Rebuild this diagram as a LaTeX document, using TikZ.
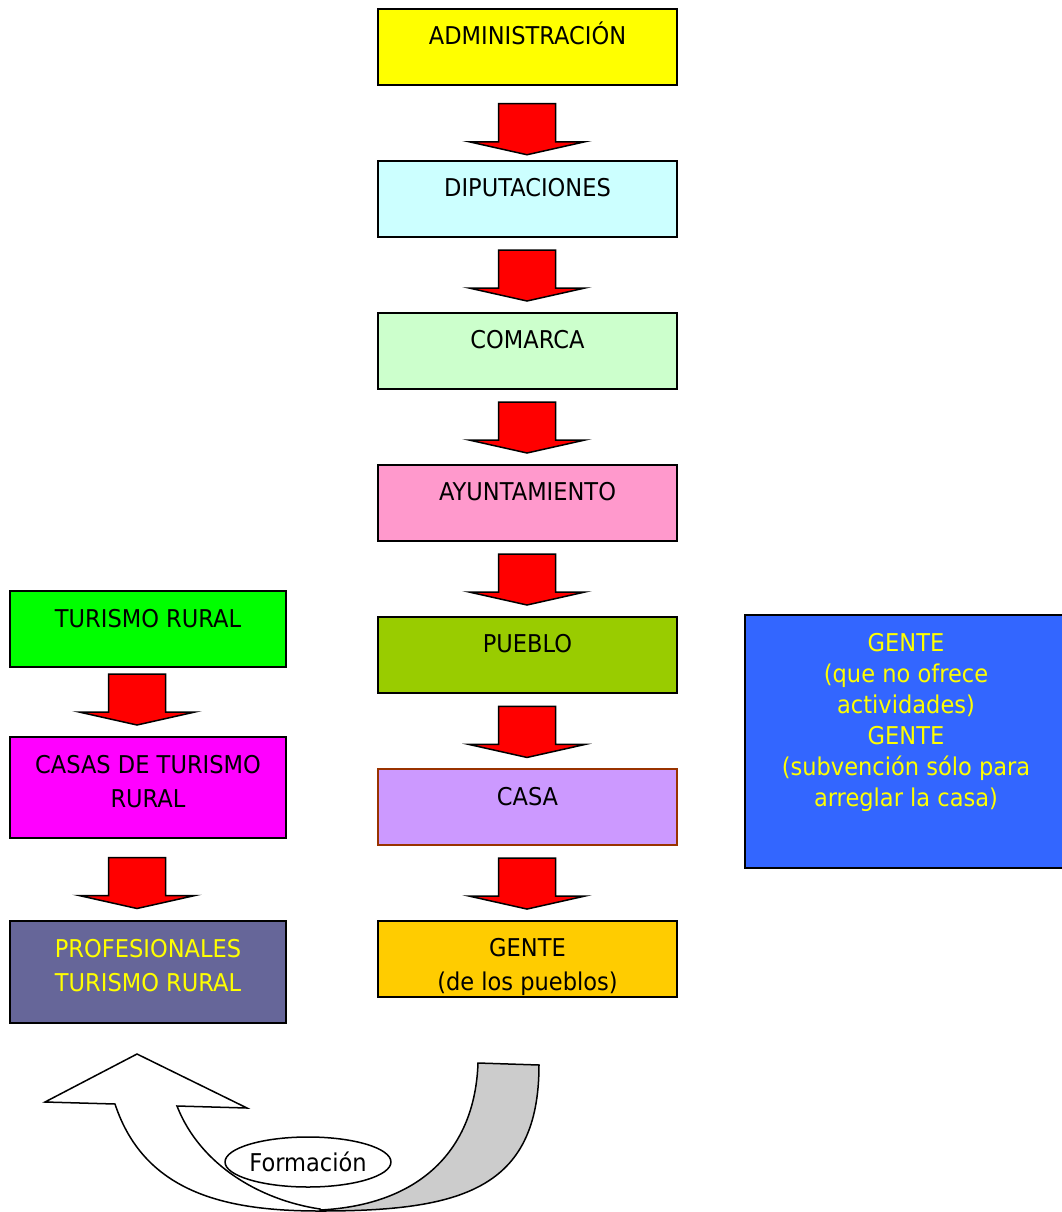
\documentclass[tikz,border=0pt]{standalone}
\usepackage{fontspec}
\setmainfont{DejaVu Sans}[FakeStretch=0.92]
\usetikzlibrary{calc,shapes.geometric}

\definecolor{amarillo}{HTML}{FFFF00}
\definecolor{celeste}{HTML}{CCFFFF}
\definecolor{verdeclaro}{HTML}{CCFFCC}
\definecolor{rosa}{HTML}{FF99CC}
\definecolor{oliva}{HTML}{99CC00}
\definecolor{lila}{HTML}{CC99FF}
\definecolor{marron}{HTML}{993300}
\definecolor{naranja}{HTML}{FFCC00}
\definecolor{verde}{HTML}{00FF00}
\definecolor{magenta}{HTML}{FF00FF}
\definecolor{morado}{HTML}{666699}
\definecolor{azul}{HTML}{3366FF}
\definecolor{gris}{HTML}{CCCCCC}

\tikzset{
  caja/.style={draw=black, line width=2pt, inner sep=0pt},
  flecha/.style={draw=black, line width=1.5pt, fill=red},
  curva/.style={draw=black, line width=1.5pt},
  ovalo/.style={ellipse, draw=black, line width=1.5pt, fill=white,
    minimum width=163, minimum height=50, inner sep=0pt},
}

% caja de texto alineado arriba: ancho, alto, texto
\newcommand\texto[3]{\parbox[c][#2pt][t]{#1pt}{\centering\rule{0pt}{36pt}#3}}

% flecha gruesa hacia abajo entre dos cajas
\newcommand\flechaabajo[4]{%
  \coordinate (fc) at ($(#1.south)!0.5!(#2.north)+(#3,#4)$);
  \draw[flecha] ($(fc)+(-28.5,-25.5)$) -- ($(fc)+(28.5,-25.5)$)
    -- ($(fc)+(28.5,12.5)$) -- ($(fc)+(58,12.5)$) -- ($(fc)+(0,25.5)$)
    -- ($(fc)+(-58,12.5)$) -- ($(fc)+(-28.5,12.5)$) -- cycle;
}

\begin{document}
\begin{tikzpicture}[x=1pt, y=-1pt, font=\fontsize{24.5}{34}\selectfont]
  \useasboundingbox (0,0) rectangle (1061,1212);

  % columna central
  \node[caja, fill=amarillo] (adm) at (527.5,47) {\texto{299}{76}{ADMINISTRACIÓN}};
  \node[caja, fill=celeste] (dip) at (527.5,198.5) {\texto{299}{76}{DIPUTACIONES}};
  \node[caja, fill=verdeclaro] (com) at (527.5,350.5) {\texto{299}{76}{COMARCA}};
  \node[caja, fill=rosa] (ayu) at (527.5,502.5) {\texto{299}{76}{AYUNTAMIENTO}};
  \node[caja, fill=oliva] (pue) at (527.5,654.5) {\texto{299}{76}{PUEBLO}};
  \node[caja, fill=lila, draw=marron, line width=1.2pt] (cas) at (527.5,807) {\texto{299}{76}{CASA}};
  \node[caja, fill=naranja] (gen) at (527.5,958.5) {\texto{299}{76}{GENTE\\(de los pueblos)}};

  % columna izquierda
  \node[caja, fill=verde] (tur) at (148,629) {\texto{276}{76}{TURISMO RURAL}};
  \node[caja, fill=magenta] (ctr) at (148,787.5) {\texto{276}{101}{CASAS DE TURISMO\\RURAL}};
  \node[caja, fill=morado, text=amarillo] (pro) at (148,972) {\texto{276}{102}{PROFESIONALES\\TURISMO RURAL}};

  % caja derecha
  \node[caja, fill=azul, text=amarillo, font=\fontsize{24.5}{31}\selectfont] (gnt) at (906,741.5)
    {\texto{322}{253}{GENTE\\(que no ofrece\\actividades)\\GENTE\\(subvención sólo para\\arreglar la casa)}};

  \flechaabajo{adm}{dip}{-0.5}{6.5}
  \flechaabajo{dip}{com}{-0.5}{1}
  \flechaabajo{com}{ayu}{-0.5}{1}
  \flechaabajo{ayu}{pue}{-0.5}{1}
  \flechaabajo{pue}{cas}{-0.5}{1}
  \flechaabajo{cas}{gen}{-0.5}{1}
  \flechaabajo{tur}{ctr}{-11}{-2.5}
  \flechaabajo{ctr}{pro}{-11}{3.5}

  % flecha curva de abajo
  \draw[curva, fill=gris] (478,1063) -- (539,1065)
    .. controls (539,1190) and (460,1211) .. (320,1211) -- (320,1210)
    .. controls (420,1205) and (475,1150) .. (478,1063) -- cycle;
  \draw[curva, fill=white] (45,1102) -- (137,1054) -- (247,1108) -- (177,1106)
    .. controls (200,1165) and (260,1200) .. (320,1209) -- (320,1211)
    .. controls (230,1211) and (145,1195) .. (115,1104) -- cycle;
  \node[ovalo] (for) at (308,1162) {Formación};
\end{tikzpicture}
\end{document}
